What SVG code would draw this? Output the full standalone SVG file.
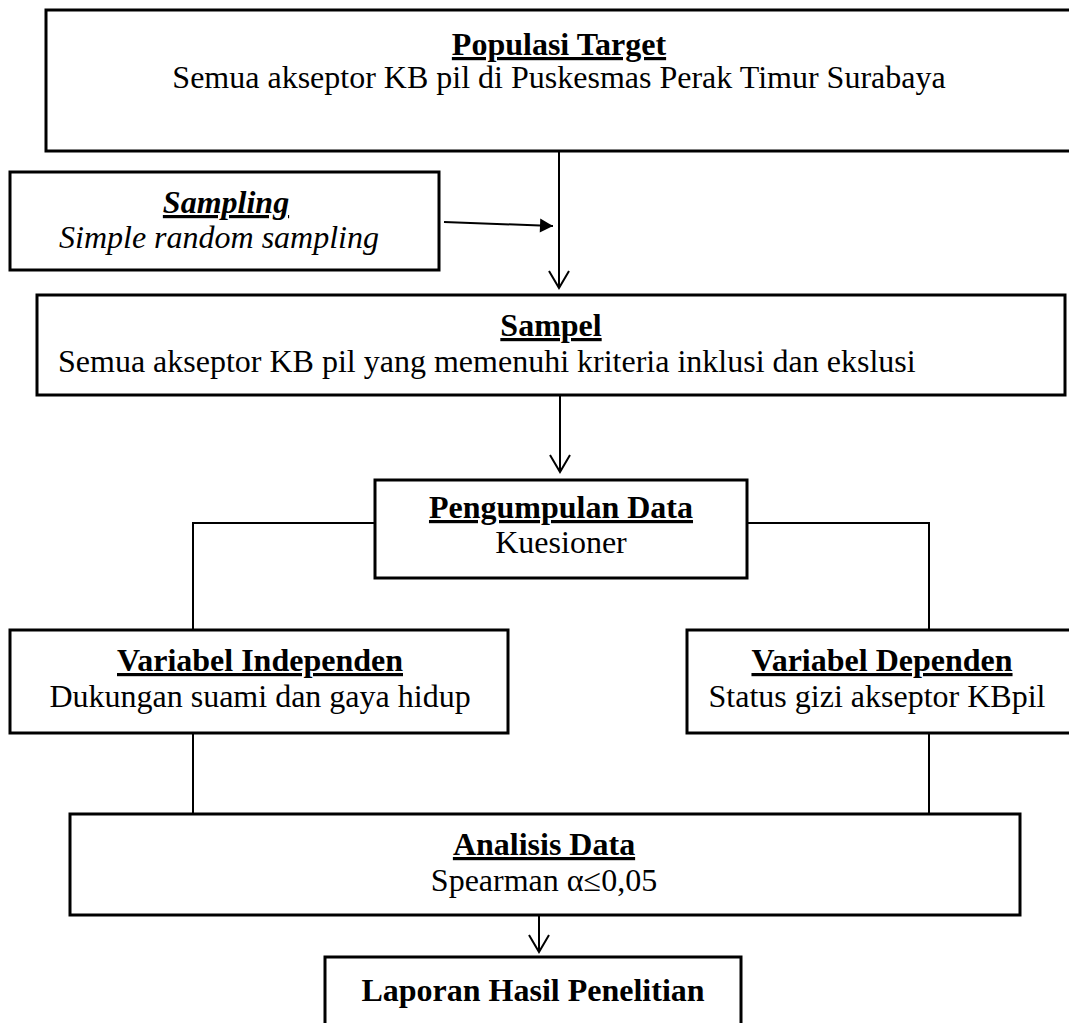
<svg xmlns="http://www.w3.org/2000/svg" width="1069" height="1023" viewBox="0 0 1069 1023">
<style>
.box{fill:#fff;stroke:#000;stroke-width:3}
.t{font-family:"Liberation Serif","Times New Roman",serif;font-size:32px;fill:#000}
.c{text-anchor:middle}
.h{font-weight:bold;text-decoration:underline}
.i{font-style:italic}
.con{fill:none;stroke:#000;stroke-width:2}
</style>
<defs>
<marker id="open" viewBox="-20 -12 22 24" refX="0" refY="0" markerWidth="22" markerHeight="24" markerUnits="userSpaceOnUse" orient="auto">
<path d="M-17,-10 L0,0 L-17,10" fill="none" stroke="#000" stroke-width="2"/>
</marker>
<marker id="fill" viewBox="-15 -9 16 18" refX="0" refY="0" markerWidth="16" markerHeight="18" markerUnits="userSpaceOnUse" orient="auto">
<path d="M-13,-7 L0,0 L-13,7 Z" fill="#000"/>
</marker>
</defs>
<g id="connectors">
<line class="con" x1="559" y1="151" x2="559" y2="288" marker-end="url(#open)"/>
<line class="con" x1="444" y1="222" x2="553" y2="226" marker-end="url(#fill)"/>
<line class="con" x1="560" y1="395" x2="560" y2="472" marker-end="url(#open)"/>
<polyline class="con" points="375,523 193,523 193,630"/>
<polyline class="con" points="747,523 929,523 929,630"/>
<line class="con" x1="193" y1="733" x2="193" y2="814"/>
<line class="con" x1="929" y1="733" x2="929" y2="814"/>
<line class="con" x1="539" y1="915" x2="539" y2="952" marker-end="url(#open)"/>
</g>
<g id="populasi">
<rect class="box" x="46" y="10" width="1030" height="141"/>
<text class="t c h" x="559" y="55">Populasi Target</text>
<text class="t c" x="559" y="88">Semua akseptor KB pil di Puskesmas Perak Timur Surabaya</text>
</g>
<g id="sampling">
<rect class="box" x="10" y="172" width="429" height="98"/>
<text class="t c h i" x="226" y="213">Sampling</text>
<text class="t c i" x="219" y="248">Simple random sampling</text>
</g>
<g id="sampel">
<rect class="box" x="37" y="295" width="1028" height="100"/>
<text class="t c h" x="551" y="336">Sampel</text>
<text class="t" x="58" y="372">Semua akseptor KB pil yang memenuhi kriteria inklusi dan ekslusi</text>
</g>
<g id="pengumpulan">
<rect class="box" x="375" y="480" width="372" height="98"/>
<text class="t c h" x="561" y="518">Pengumpulan Data</text>
<text class="t c" x="561" y="553">Kuesioner</text>
</g>
<g id="independen">
<rect class="box" x="10" y="630" width="498" height="103"/>
<text class="t c h" x="260" y="671">Variabel Independen</text>
<text class="t c" x="260" y="707">Dukungan suami dan gaya hidup</text>
</g>
<g id="dependen">
<rect class="box" x="687" y="630" width="400" height="103"/>
<text class="t c h" x="882" y="671">Variabel Dependen</text>
<text class="t c" x="877" y="707">Status gizi akseptor KBpil</text>
</g>
<g id="analisis">
<rect class="box" x="70" y="814" width="950" height="101"/>
<text class="t c h" x="544" y="855">Analisis Data</text>
<text class="t c" x="544" y="891">Spearman α≤0,05</text>
</g>
<g id="laporan">
<rect class="box" x="325" y="957" width="416" height="80"/>
<text class="t c" x="533" y="1001" font-weight="bold">Laporan Hasil Penelitian</text>
</g>
</svg>
